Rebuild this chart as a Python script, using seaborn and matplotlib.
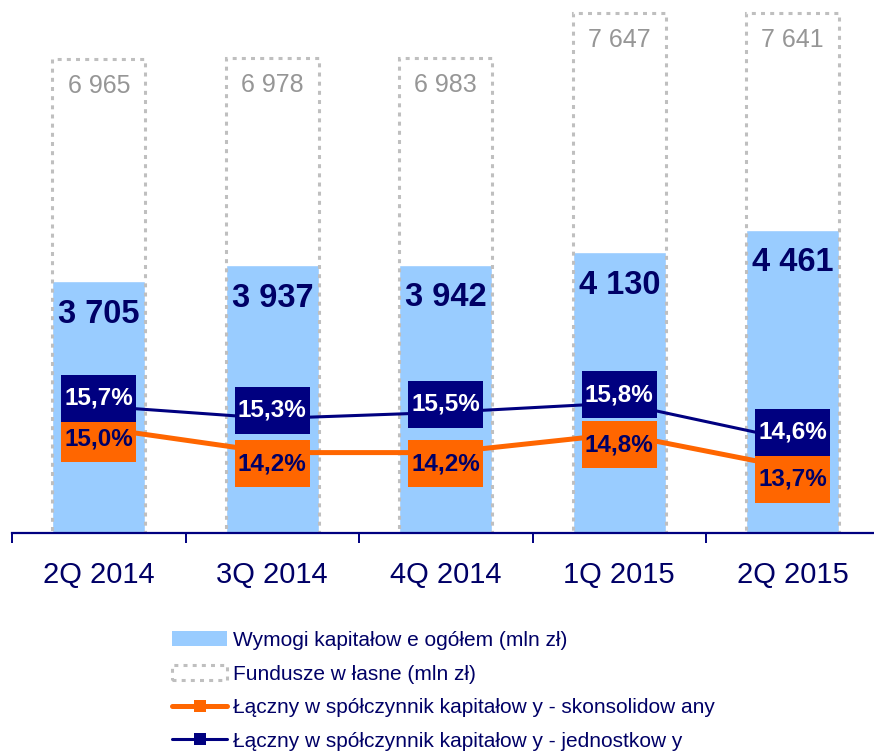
import numpy as np
import matplotlib
matplotlib.use("Agg")
import matplotlib.pyplot as plt
from matplotlib.patches import Patch, Rectangle
from matplotlib.lines import Line2D
import seaborn as sns

# Quarterly capital data
quarters = ["2Q 2014", "3Q 2014", "4Q 2014", "1Q 2015", "2Q 2015"]
wymogi = [3705, 3937, 3942, 4130, 4461]          # capital requirements, mln zł
fundusze = [6965, 6978, 6983, 7647, 7641]        # own funds, mln zł
wsp_skons = [15.0, 14.2, 14.2, 14.8, 13.7]       # total capital ratio, consolidated (%)
wsp_jedn = [15.7, 15.3, 15.5, 15.8, 14.6]        # total capital ratio, standalone (%)

legend_labels = [
    "Wymogi kapitałow e ogółem (mln zł)",
    "Fundusze w łasne (mln zł)",
    "Łączny w spółczynnik kapitałow y - skonsolidow any",
    "Łączny w spółczynnik kapitałow y - jednostkow y",
]

NAVY = "#000080"
TEXT_NAVY = "#000066"
ORANGE = "#FF6600"
LIGHT_BLUE = "#99CCFF"
GREY = "#BFBFBF"
GREY_TEXT = "#969696"

sns.set_style("white")
plt.rcParams["font.family"] = ["Liberation Sans", "DejaVu Sans"]

fig = plt.figure(figsize=(8.74, 7.54), dpi=100)
ax = fig.add_axes([12 / 874, 221 / 754, 862 / 874, 533 / 754])

BAR_W = 0.536
sns.barplot(x=quarters, y=wymogi, color=LIGHT_BLUE, saturation=1,
            width=BAR_W, errorbar=None, ax=ax, zorder=1)
n_blue = len(ax.patches)
sns.barplot(x=quarters, y=fundusze, color=GREY, saturation=1, fill=False,
            width=BAR_W, errorbar=None, ax=ax, zorder=2)
for p in ax.patches[n_blue:]:
    p.set_facecolor("none")
    p.set_edgecolor(GREY)
    p.set_linewidth(2.2)
    p.set_linestyle((0, (1.3, 1.7)))
    p.set_capstyle("butt")

ax.set_xlim(-0.5, 4.468)
ax.set_ylim(0, 7838)
ax.set_xlabel("")
ax.set_ylabel("")

# Value labels for the bars
for i, v in enumerate(wymogi):
    ax.annotate(f"{v:,}".replace(",", " "), xy=(i, v), xytext=(0, -33),
                textcoords="offset pixels", ha="center", va="center",
                fontsize=23.5, fontweight="bold", color=TEXT_NAVY, zorder=5)
for i, v in enumerate(fundusze):
    ax.annotate(f"{v:,}".replace(",", " "), xy=(i, v), xytext=(0, -27),
                textcoords="offset pixels", ha="center", va="center",
                fontsize=18, color=GREY_TEXT, zorder=5)

# Axis styling
for s in ["left", "right", "top"]:
    ax.spines[s].set_visible(False)
ax.spines["bottom"].set_color(NAVY)
ax.spines["bottom"].set_linewidth(1.6)
ax.set_yticks([])
ax.set_xticks(np.arange(-0.5, 5.0, 1.0), minor=True)
ax.tick_params(axis="x", which="minor", bottom=True, length=7.5, width=1.4,
               color=NAVY, direction="out")
ax.tick_params(axis="x", which="major", bottom=True, length=0, pad=20,
               labelsize=21, labelcolor=TEXT_NAVY)

# Capital ratios on a secondary scale
ax2 = ax.twinx()
ax2.set_ylim(11.606, 28.8)
pos = np.arange(len(quarters))
sns.lineplot(x=pos, y=wsp_skons, color=ORANGE, linewidth=3.6, marker="s",
             markersize=8, markeredgewidth=0, ax=ax2, zorder=3)
sns.lineplot(x=pos, y=wsp_jedn, color=NAVY, linewidth=2.2, marker="s",
             markersize=8, markeredgewidth=0, ax=ax2, zorder=3)
ax2.set_axis_off()
ax2.set_xlim(-0.5, 4.468)

PX = 31.0  # pixels per percentage point on the ratio scale
BOX_W = 75 / 173.5
BOX_H = 47 / PX


def ratio_label(x, v, dy_px, face, txt_color, z):
    cy = v + dy_px / PX
    ax2.add_patch(Rectangle((x - BOX_W / 2, cy - BOX_H / 2), BOX_W, BOX_H,
                            facecolor=face, edgecolor="none", zorder=z))
    ax2.text(x, cy, f"{v:.1f}%".replace(".", ","), ha="center", va="center",
             fontsize=17.5, fontweight="bold", color=txt_color, zorder=z + 0.5)


for i, v in enumerate(wsp_skons):
    ratio_label(i, v, -11, ORANGE, TEXT_NAVY, 4)
for i, v in enumerate(wsp_jedn):
    ratio_label(i, v, 8, NAVY, "white", 6)

# Legend
handles = [
    Patch(facecolor=LIGHT_BLUE, edgecolor="none"),
    Patch(facecolor="none", edgecolor=GREY, linewidth=2.2, linestyle=(0, (1.3, 1.7))),
    Line2D([], [], color=ORANGE, linewidth=3.6, marker="s", markersize=9, markeredgewidth=0),
    Line2D([], [], color=NAVY, linewidth=2.2, marker="s", markersize=9, markeredgewidth=0),
]
fig.legend(handles, legend_labels, loc="upper left",
           bbox_to_anchor=(172 / 874, 1 - 631 / 754), frameon=False,
           fontsize=15, labelcolor=TEXT_NAVY, handlelength=2.65,
           handletextpad=0.3, labelspacing=0.7, borderpad=0, borderaxespad=0)

fig.savefig("out.png", dpi=100)
